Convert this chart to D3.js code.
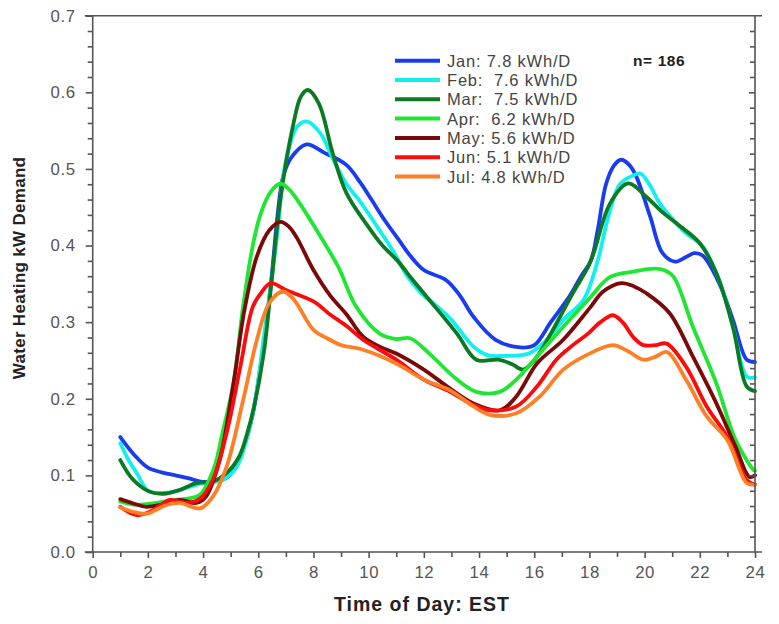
<!DOCTYPE html>
<html><head><meta charset="utf-8">
<script src="https://cdn.jsdelivr.net/npm/d3@7"></script>
<style>html,body{margin:0;padding:0;background:#fff;}svg{display:block;}text{white-space:pre;}</style>
</head><body>
<svg id="chart" width="779" height="624"></svg>
<script>
// ---- data (hour of day, kW demand) ----
const months = ["Jan", "Feb", "Mar", "Apr", "May", "Jun", "Jul"];
const legendLabels = ["Jan: 7.8 kWh/D", "Feb:  7.6 kWh/D", "Mar:  7.5 kWh/D", "Apr:  6.2 kWh/D", "May: 5.6 kWh/D", "Jun: 5.1 kWh/D", "Jul: 4.8 kWh/D"];
const colors = ["#1a3cf0", "#10f0f0", "#0b7a23", "#1ee632", "#7a0a0a", "#ff0a0a", "#ff7f27"];
const jan = [[1,0.150],[1.5,0.127],[2,0.110],[2.5,0.104],[3,0.100],[3.5,0.096],[3.9,0.092],[4.4,0.092],[4.9,0.098],[5.45,0.135],[5.8,0.18],[6.05,0.235],[6.3,0.30],[6.5,0.365],[6.7,0.44],[6.9,0.49],[7.2,0.515],[7.75,0.532],[8.4,0.521],[9.2,0.505],[9.7,0.482],[10.1,0.46],[10.6,0.432],[11.1,0.407],[11.5,0.387],[12.0,0.368],[12.8,0.355],[13.3,0.335],[13.8,0.307],[14.6,0.277],[15.5,0.267],[16.0,0.27],[16.6,0.30],[17.3,0.335],[17.7,0.36],[18.05,0.38],[18.3,0.42],[18.6,0.48],[18.9,0.505],[19.15,0.512],[19.45,0.505],[19.7,0.49],[20.2,0.438],[20.65,0.39],[21.1,0.379],[21.5,0.385],[21.8,0.39],[22.1,0.387],[22.7,0.351],[23.2,0.303],[23.7,0.251],[24,0.248]];
const feb = [[1,0.142],[1.3,0.12],[1.6,0.103],[2.0,0.08],[2.5,0.077],[3,0.079],[3.5,0.085],[4,0.09],[4.7,0.094],[5.2,0.11],[5.6,0.15],[5.9,0.20],[6.2,0.28],[6.5,0.36],[6.72,0.425],[6.9,0.49],[7.1,0.525],[7.4,0.555],[7.75,0.562],[8.24,0.547],[8.72,0.512],[9.2,0.48],[9.68,0.458],[10.3,0.425],[10.9,0.392],[11.4,0.36],[11.9,0.338],[12.5,0.32],[13.0,0.303],[13.8,0.268],[14.3,0.257],[15.0,0.256],[15.8,0.259],[16.4,0.275],[17.05,0.303],[17.8,0.33],[18.3,0.38],[18.7,0.44],[19.1,0.48],[19.5,0.49],[19.85,0.494],[20.2,0.478],[20.55,0.455],[21.0,0.435],[21.5,0.416],[22.1,0.399],[22.7,0.355],[23.2,0.294],[23.7,0.229],[24,0.228]];
const mar = [[1,0.12],[1.45,0.095],[2.05,0.079],[2.55,0.076],[3.15,0.081],[3.75,0.09],[4.35,0.092],[4.85,0.103],[5.3,0.124],[5.6,0.155],[5.85,0.19],[6.2,0.26],[6.5,0.36],[6.8,0.46],[7.25,0.555],[7.55,0.595],[7.8,0.603],[8.2,0.585],[8.7,0.52],[9.2,0.468],[9.9,0.429],[10.5,0.40],[11.05,0.38],[11.6,0.355],[12.2,0.329],[13.2,0.285],[13.9,0.251],[14.7,0.251],[15.2,0.245],[15.6,0.238],[16.0,0.25],[16.6,0.285],[17.4,0.338],[17.95,0.372],[18.15,0.39],[18.75,0.455],[19.4,0.481],[20.05,0.464],[20.6,0.445],[21.15,0.429],[22.0,0.403],[22.6,0.364],[23.2,0.294],[23.7,0.216],[24,0.21]];
const apr = [[1,0.066],[1.5,0.062],[2.3,0.064],[3,0.068],[3.5,0.07],[3.9,0.075],[4.4,0.11],[4.7,0.155],[5.1,0.22],[5.45,0.32],[5.8,0.40],[6.1,0.443],[6.45,0.47],[6.8,0.481],[7.15,0.472],[7.5,0.455],[8.25,0.412],[8.9,0.372],[9.55,0.32],[10.4,0.285],[11.0,0.278],[11.5,0.279],[12.2,0.259],[13.2,0.225],[13.9,0.209],[14.75,0.209],[15.35,0.225],[16.1,0.255],[17.05,0.294],[17.95,0.329],[18.75,0.359],[19.6,0.366],[20.35,0.37],[20.7,0.368],[21.05,0.359],[21.75,0.294],[22.6,0.22],[23.3,0.146],[23.95,0.107],[24,0.106]];
const may = [[1,0.069],[1.5,0.063],[1.95,0.059],[2.5,0.062],[3.15,0.068],[3.75,0.064],[4.1,0.072],[4.6,0.12],[5.1,0.22],[5.5,0.316],[5.95,0.386],[6.4,0.42],[6.8,0.431],[7.1,0.425],[7.4,0.41],[8.0,0.368],[8.6,0.335],[9.2,0.31],[9.8,0.281],[10.4,0.268],[11.0,0.259],[12.0,0.238],[12.85,0.216],[13.8,0.194],[14.75,0.185],[15.35,0.203],[16.1,0.246],[17.05,0.277],[18.0,0.318],[18.5,0.34],[19.15,0.351],[19.6,0.347],[20.05,0.338],[20.9,0.312],[21.75,0.255],[22.6,0.194],[23.3,0.137],[23.8,0.098],[24,0.1]];
const jun = [[1,0.059],[1.6,0.048],[2.2,0.055],[2.8,0.068],[3.4,0.064],[3.9,0.07],[4.35,0.094],[4.85,0.155],[5.35,0.242],[5.8,0.32],[6.1,0.338],[6.45,0.351],[7.0,0.342],[8.0,0.327],[8.6,0.31],[9.2,0.295],[9.8,0.277],[11.0,0.251],[12.0,0.225],[12.85,0.211],[13.7,0.194],[14.4,0.185],[15.35,0.19],[16.1,0.216],[16.8,0.251],[17.4,0.27],[17.95,0.285],[18.4,0.3],[18.85,0.309],[19.2,0.30],[19.6,0.28],[19.95,0.27],[20.4,0.27],[20.8,0.272],[21.5,0.242],[22.25,0.19],[23.0,0.15],[23.7,0.094],[24,0.088]];
const jul = [[1,0.058],[1.5,0.052],[1.95,0.05],[2.65,0.061],[3.15,0.064],[3.9,0.057],[4.35,0.072],[4.85,0.111],[5.45,0.198],[5.95,0.277],[6.4,0.325],[6.9,0.34],[7.3,0.329],[8.0,0.29],[8.6,0.277],[9.0,0.27],[9.8,0.264],[11.0,0.246],[12.0,0.225],[12.95,0.211],[13.8,0.19],[14.4,0.179],[15.35,0.181],[16.2,0.203],[17.05,0.238],[17.95,0.258],[18.85,0.27],[19.4,0.262],[19.95,0.251],[20.4,0.255],[20.8,0.261],[21.5,0.225],[22.25,0.177],[23.0,0.146],[23.7,0.09],[24,0.088]];
const seriesData = [jan, feb, mar, apr, may, jun, jul];
const xMajorTicks = [0,2,4,6,8,10,12,14,16,18,20,22,24];
const xMinorTicks = [1,3,5,7,9,11,13,15,17,19,21,23];
const yMajorTicks = [0,0.1,0.2,0.3,0.4,0.5,0.6,0.7];
const yMinorTicks = d3.range(0, 0.7001, 0.02).filter(v => Math.abs(v*10 - Math.round(v*10)) > 1e-6);
const xTitle = "Time of Day: EST";
const yTitle = "Water Heating kW Demand";
const noteText = "n= 186";

// ---- layout ----
const svg = d3.select("#chart");
const L = 92.7, R = 755, T = 15.7, B = 552;
const x = d3.scaleLinear().domain([0, 24]).range([L, R]);
const y = d3.scaleLinear().domain([0, 0.7]).range([B, T]);
const axisColor = "#555";
const font = "'Liberation Sans', Arial, sans-serif";

// lines
const line = d3.line().x(d => x(d[0])).y(d => y(d[1])).curve(d3.curveCatmullRom.alpha(0.5));
svg.append("g").selectAll("path").data(seriesData).join("path")
  .attr("d", line).attr("fill", "none")
  .attr("stroke", (d, i) => colors[i]).attr("stroke-width", 3.8)
  .attr("stroke-linejoin", "round").attr("stroke-linecap", "round");

// frame lines
const frame = svg.append("g").attr("stroke", axisColor).attr("stroke-width", 1.6);
frame.append("line").attr("x1", L - 8).attr("x2", R + 7).attr("y1", T).attr("y2", T);
frame.append("line").attr("x1", L - 8).attr("x2", R + 7).attr("y1", B).attr("y2", B);
frame.append("line").attr("x1", L).attr("x2", L).attr("y1", T).attr("y2", B);
frame.append("line").attr("x1", R).attr("x2", R).attr("y1", T).attr("y2", B);

function styleAxis(g) {
  g.select(".domain").remove();
  g.selectAll(".tick line").attr("stroke", axisColor).attr("stroke-width", 1.6);
  g.selectAll(".tick text").attr("fill", "#555").attr("font-family", font).attr("font-size", 16.8).attr("letter-spacing", 0.6);
}
// left axis
svg.append("g").attr("transform", `translate(${L},0)`)
  .call(d3.axisLeft(y).tickValues(yMajorTicks).tickSize(7).tickPadding(10).tickFormat(d3.format(".1f")))
  .call(styleAxis);
svg.append("g").attr("transform", `translate(${L},0)`)
  .call(d3.axisLeft(y).tickValues(yMinorTicks).tickSize(5).tickFormat(""))
  .call(styleAxis);
// right axis (inward ticks)
svg.append("g").attr("transform", `translate(${R},0)`)
  .call(d3.axisRight(y).tickValues(yMajorTicks.slice(1, -1)).tickSize(-6).tickFormat(""))
  .call(styleAxis);
svg.append("g").attr("transform", `translate(${R},0)`)
  .call(d3.axisRight(y).tickValues(yMinorTicks).tickSize(-5).tickFormat(""))
  .call(styleAxis);
// bottom axis
svg.append("g").attr("transform", `translate(0,${B})`)
  .call(d3.axisBottom(x).tickValues(xMajorTicks).tickSize(6).tickPadding(8).tickFormat(d3.format("d")))
  .call(styleAxis);
svg.append("g").attr("transform", `translate(0,${B})`)
  .call(d3.axisBottom(x).tickValues(xMinorTicks).tickSize(5).tickFormat(""))
  .call(styleAxis);

// titles
svg.append("text").attr("x", 422).attr("y", 611).attr("text-anchor", "middle")
  .attr("font-family", font).attr("font-weight", "bold").attr("font-size", 19.5).attr("letter-spacing", 1)
  .attr("fill", "#222").text(xTitle);
svg.append("text").attr("transform", "translate(25,268) rotate(-90)").attr("text-anchor", "middle")
  .attr("font-family", font).attr("font-weight", "bold").attr("font-size", 17).attr("letter-spacing", 0.3)
  .attr("fill", "#222").text(yTitle);

// legend
const lg = svg.append("g");
const rowY = i => 60.7 + i * 19.3;
lg.selectAll("line").data(months).join("line")
  .attr("x1", 395).attr("x2", 440).attr("y1", (d, i) => rowY(i)).attr("y2", (d, i) => rowY(i))
  .attr("stroke", (d, i) => colors[i]).attr("stroke-width", 4);
lg.selectAll("text").data(legendLabels).join("text")
  .attr("x", 447).attr("y", (d, i) => rowY(i) + 6)
  .attr("font-family", font).attr("font-size", 16.5).attr("letter-spacing", 0.8)
  .attr("fill", "#444").text(d => d);
svg.append("text").attr("x", 633).attr("y", 66).attr("font-family", font).attr("font-weight", "bold")
  .attr("font-size", 15.5).attr("letter-spacing", 0.6).attr("fill", "#222").text(noteText);
</script>
</body></html>
